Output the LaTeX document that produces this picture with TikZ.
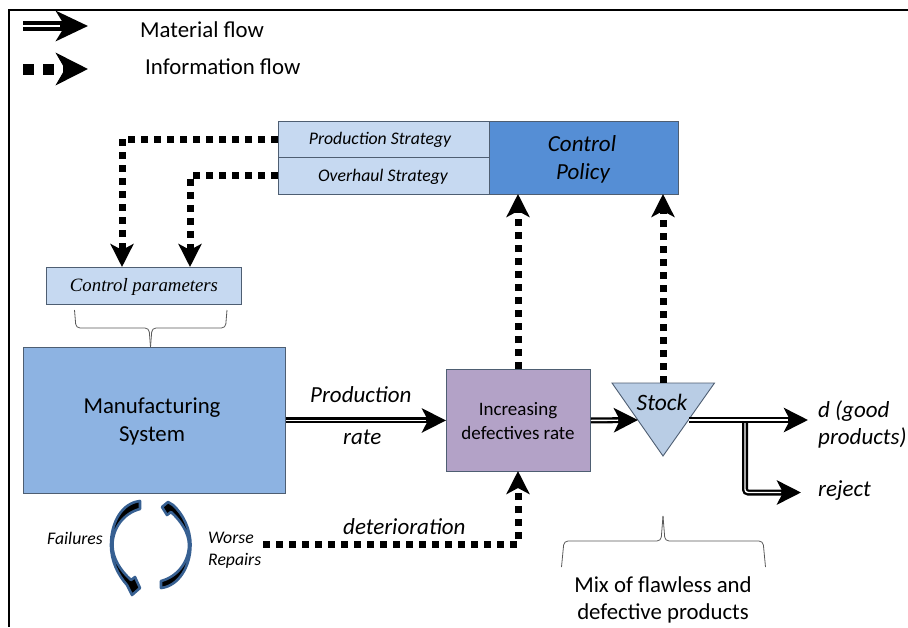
\documentclass[tikz,border=0pt]{standalone}
\usepackage{fontspec}
\setmainfont{Carlito}
\newfontfamily\serifit{Liberation Serif}
\usetikzlibrary{arrows.meta}
\definecolor{lightbox}{HTML}{C6D9F1}
\definecolor{policyblue}{HTML}{558ED5}
\definecolor{msblue}{HTML}{8DB3E2}
\definecolor{purplebox}{HTML}{B3A2C7}
\definecolor{triblue}{HTML}{B9CDE5}
\definecolor{edgegrey}{HTML}{4E5E72}
\definecolor{loopblue}{HTML}{376092}
\tikzset{
  x=1pt,y=-1pt,
  boxstyle/.style={draw=edgegrey,line width=0.9pt,inner sep=0pt,anchor=north west},
  matflow/.style={draw=black,line width=6pt,-{Stealth[length=24pt,width=24pt,inset=6pt]},
    postaction={draw=white,line width=1.4pt,-,shorten >=20pt}},
  infoflow/.style={draw=black,line width=7pt,dash pattern=on 7pt off 6pt,
    -{Stealth[length=23pt,width=23pt,inset=6pt]}},
  bracestyle/.style={draw=black!65,line width=0.8pt,rounded corners=4pt},
  loopstyle/.style={draw=loopblue,line width=2.6pt,fill=black,line join=round},
  lab/.style={font=\fontsize{22.8}{28}\selectfont,inner sep=0pt,align=center},
  labit/.style={font=\fontsize{23}{27}\selectfont\itshape,inner sep=0pt,align=left},
  smallit/.style={font=\fontsize{17.7}{22}\selectfont\itshape,inner sep=0pt,align=left},
}
\begin{document}
\begin{tikzpicture}
\useasboundingbox (0,0) rectangle (908,627);
% frame
\coordinate (fa) at (908,9.5);
\coordinate (fb) at (8.5,9.5);
\coordinate (fc) at (8.5,627);
\draw[line width=2pt] (fa) -- (fb) -- (fc);
% boxes
\node[boxstyle,fill=lightbox,minimum width=211pt,minimum height=36pt] (prod) at (278,121) {};
\node[boxstyle,fill=lightbox,minimum width=211pt,minimum height=37pt] (over) at (278,157) {};
\node[boxstyle,fill=policyblue,minimum width=189pt,minimum height=73pt] (policy) at (489,121) {};
\node[boxstyle,fill=lightbox,minimum width=195pt,minimum height=37pt] (param) at (46,267) {};
\node[boxstyle,fill=msblue,minimum width=262pt,minimum height=146pt] (ms) at (23,347) {};
\node[boxstyle,fill=purplebox,minimum width=144pt,minimum height=102pt] (inc) at (446,369) {};
\node[smallit] (prodt) at (380,140) {Production Strategy};
\node[smallit] (overt) at (383,177) {Overhaul Strategy};
\node[labit,align=center,font=\fontsize{23}{28}\selectfont\itshape] (policyt) at (582,159) {Control\\\hspace*{2pt}Policy};
\node[font=\fontsize{18.8}{20}\selectfont\itshape\serifit,inner sep=0pt] (paramt) at (144,287) {Control parameters};
\node[lab] (mst) at (152,421) {Manufacturing\\System};
\node[font=\fontsize{19}{24}\selectfont,inner sep=0pt,align=center] (inct) at (518,421) {Increasing\\defectives rate};
% triangle
\coordinate (ta) at (612,383);
\coordinate (tb) at (714.5,383);
\coordinate (tc) at (663,456);
\coordinate (tin) at (638,420);
\coordinate (tout) at (689,420);
\coordinate (ttop) at (663,383);
\draw[draw=edgegrey,fill=triblue,line width=0.9pt,line join=miter] (ta) -- (tb) -- (tc) -- cycle;
\node[font=\fontsize{23.5}{26}\selectfont\itshape,inner sep=0pt] (stock) at (662,402) {Stock};
% legend
\coordinate (l1a) at (23,26); \coordinate (l1b) at (88,26);
\coordinate (l2a) at (23,69); \coordinate (l2b) at (88,69);
\draw[draw=black,line width=10pt,-{Stealth[length=32pt,width=30pt,inset=9pt]},
  postaction={draw=white,line width=1.6pt,-,shorten >=28pt}] (l1a) -- (l1b);
\draw[draw=black,line width=11pt,dash pattern=on 11pt off 9pt,
  -{Stealth[length=32pt,width=32pt,inset=9pt]}] (l2a) -- (l2b);
\node[lab,anchor=west] (l1t) at (140,30) {Material flow};
\node[lab,anchor=west] (l2t) at (145,67) {Information flow};
% information flows
\coordinate (pin1) at (122,267);
\coordinate (pin2) at (190,267);
\coordinate (p1) at (518,194);
\coordinate (p2) at (663,194);
\coordinate (dstart) at (263,544);
\coordinate (dend) at (518,471);
\draw[infoflow] (prod.west) -| (pin1);
\draw[infoflow] (over.west) -| (pin2);
\draw[infoflow] (p1 |- inc.north) -- (p1);
\draw[infoflow] (ttop) -- (p2);
\draw[infoflow] (dstart) -| (dend);
% material flows
\coordinate (dout) at (808,420);
\coordinate (branch) at (745,420);
\coordinate (rej) at (801,492.5);
\draw[matflow] (ms.east) -- (inc.west);
\draw[draw=black,line width=6pt,rounded corners=3pt,-{Stealth[length=24pt,width=24pt,inset=6pt]},
  postaction={draw=white,line width=1.4pt,-,shorten >=20pt}] (branch) |- (rej);
\draw[matflow] (tout) -- (dout);
\draw[matflow] (inc.east) -- (tin);
% flow labels
\node[labit,anchor=west] (plab) at (310,395) {Production};
\node[labit,anchor=west] (rlab) at (343,437) {rate};
\node[labit,anchor=west] (dlab) at (343,527) {deterioration};
\node[labit,anchor=north west] (glab) at (818,400.5) {d (good\\products)};
\node[labit,anchor=west] (rjlab) at (818,491) {reject};
\node[smallit,anchor=west] (flab) at (47,538) {Failures};
\node[smallit,anchor=north west] (wlab) at (208,532) {Worse\\Repairs};
\node[font=\fontsize{22.8}{27}\selectfont,inner sep=0pt,align=center] (mix) at (663,600) {Mix of flawless and\\defective products};
% braces
\coordinate (b1a) at (74.5,310); \coordinate (b1b) at (227,310); \coordinate (b1c) at (150.5,347);
\draw[bracestyle] (b1a) -- (76,328) -- (149,328) -- (b1c);
\draw[bracestyle] (b1b) -- (225.5,328) -- (152,328) -- (b1c);
\coordinate (b2a) at (561.5,567); \coordinate (b2b) at (765.5,567); \coordinate (b2c) at (663,516);
\draw[bracestyle] (b2a) -- (564,541) -- (661,541) -- (b2c);
\draw[bracestyle] (b2b) -- (763,541) -- (665,541) -- (b2c);
% loop arrows
\draw[loopstyle] (140,501) .. controls (122,503) and (111,522) .. (111,545)
  .. controls (111,561) and (118,575) .. (127,585) -- (132,595) -- (140,588) -- (135,577) -- (131,580)
  .. controls (120,570) and (112.5,558) .. (112.5,545)
  .. controls (112.5,528) and (124,513) .. (140,509) -- cycle;
\draw[loopstyle] (161,588) .. controls (179,586) and (190.5,566) .. (190.5,545)
  .. controls (190.5,529) and (183,514) .. (173,505) -- (168,502) -- (162,507) -- (167,515) -- (171,512)
  .. controls (181,521) and (189,533) .. (189,545)
  .. controls (189,562) and (177,577) .. (161,581) -- cycle;
\end{tikzpicture}
\end{document}
